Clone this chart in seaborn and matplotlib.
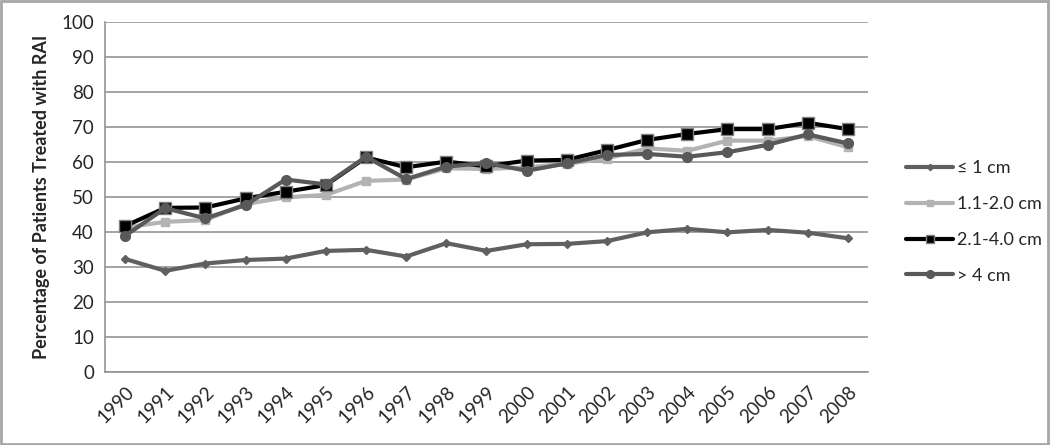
import matplotlib
matplotlib.use("Agg")
import matplotlib.pyplot as plt
import seaborn as sns
import pandas as pd
from matplotlib.patches import Rectangle

years = list(range(1990, 2009))
s_le1 = [32.3, 28.9, 31.0, 32.0, 32.4, 34.6, 34.9, 33.0, 36.8, 34.6, 36.5, 36.6, 37.4, 39.9, 40.9, 39.9, 40.6, 39.8, 38.2]
s_11_20 = [41.3, 42.9, 43.4, 48.0, 49.9, 50.6, 54.6, 55.0, 58.2, 58.0, 58.5, 59.5, 61.0, 63.9, 63.2, 66.1, 66.1, 67.4, 64.2]
s_21_40 = [41.7, 46.9, 47.0, 49.6, 51.5, 53.4, 61.3, 58.5, 60.1, 58.8, 60.4, 60.6, 63.4, 66.3, 68.0, 69.4, 69.4, 71.2, 69.4]
s_gt4 = [38.9, 46.8, 43.9, 47.7, 55.0, 53.6, 61.5, 55.1, 58.7, 59.7, 57.5, 59.6, 62.0, 62.3, 61.5, 62.8, 64.9, 67.9, 65.3]
labels = ["\u2264 1 cm", "1.1-2.0 cm", "2.1-4.0 cm", "> 4 cm"]

sns.set_theme(style="white")
plt.rcParams['font.family'] = ['Lato', 'DejaVu Sans']

rows = []
for lab, vals in zip(labels, [s_le1, s_11_20, s_21_40, s_gt4]):
    for i, (y, v) in enumerate(zip(years, vals)):
        rows.append({"idx": i, "year": y, "value": v, "series": lab})
df = pd.DataFrame(rows)

fig = plt.figure(figsize=(10.5, 4.45), dpi=100)
ax = fig.add_axes([105/1050, 1 - 372/445, (868-105)/1050, (372-22)/445])

styles = {
    labels[0]: dict(color="#606060", marker="D", ms=4, mfc="#606060", mec="#606060", lw=3.0),
    labels[1]: dict(color="#b3b3b3", marker="s", ms=6, mfc="#b3b3b3", mec="#b3b3b3", lw=3.0),
    labels[2]: dict(color="#000000", marker="s", ms=8, mfc="#000000", mec="#808080", lw=3.0),
    labels[3]: dict(color="#595959", marker="o", ms=7, mfc="#595959", mec="#595959", lw=3.0),
}
for lab in labels:
    st = styles[lab]
    sns.lineplot(data=df[df.series == lab], x="idx", y="value", ax=ax,
                 color=st["color"], marker=st["marker"], markersize=st["ms"],
                 markerfacecolor=st["mfc"], markeredgecolor=st["mec"],
                 markeredgewidth=1.0, linewidth=st["lw"], label=lab, zorder=3)

ax.set_xlim(-0.5, len(years) - 0.5)
ax.set_ylim(0, 100)
ax.set_yticks(range(0, 101, 10))
ax.set_xticks(range(len(years)))
ax.set_xticklabels([str(y) for y in years], rotation=45, ha="right", rotation_mode="anchor")
ax.tick_params(axis="x", length=5, width=1, color="#8c8c8c", direction="out", labelsize=13.5, pad=3)
ax.tick_params(axis="y", length=0, labelsize=13.5, pad=8)
ax.yaxis.grid(True, color="#8c8c8c", linewidth=1.1)
ax.set_axisbelow(True)
for side in ["top", "right"]:
    ax.spines[side].set_visible(False)
for side in ["left", "bottom"]:
    ax.spines[side].set_color("#8c8c8c")
    ax.spines[side].set_linewidth(1.1)
ax.set_xlabel("")
ax.set_ylabel("Percentage of Patients Treated with RAI", fontsize=13, fontweight="bold", labelpad=8)

leg = ax.legend(loc="center left", bbox_to_anchor=(890/1050, 1 - 222/445), bbox_transform=fig.transFigure,
                frameon=False, fontsize=13, handlelength=2.6, labelspacing=1.1, handletextpad=0.2,
                markerscale=0.8)

fig.patches.append(Rectangle((0.001, 0.002), 0.997, 0.995, transform=fig.transFigure,
                             fill=False, edgecolor="#a6a6a6", linewidth=2))

fig.savefig("out.png", dpi=100)
